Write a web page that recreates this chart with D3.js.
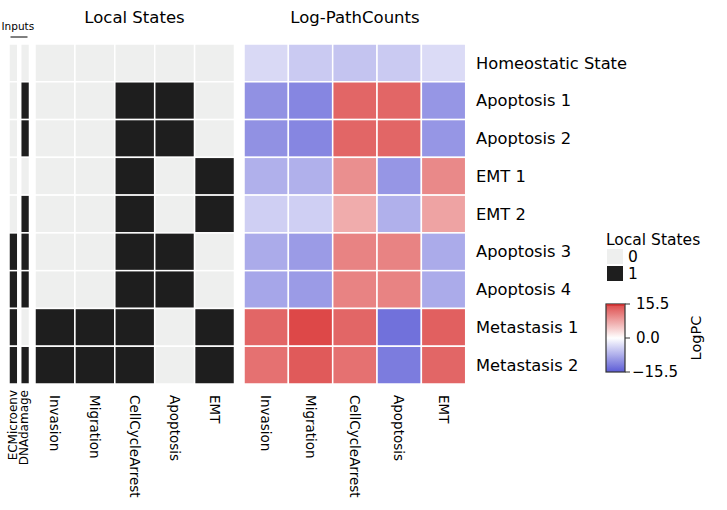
<!DOCTYPE html>
<html><head><meta charset="utf-8">
<script src="https://cdn.jsdelivr.net/npm/d3@7"></script>
<style>body{margin:0;background:#fff}svg{font-family:"DejaVu Sans",sans-serif}</style>
</head><body>
<svg id="c" width="727" height="510"></svg>
<script>
const rows = ["Homeostatic State","Apoptosis 1","Apoptosis 2","EMT 1","EMT 2","Apoptosis 3","Apoptosis 4","Metastasis 1","Metastasis 2"];
const inputs = ["ECMicroenv","DNAdamage"];
const states = ["Invasion","Migration","CellCycleArrest","Apoptosis","EMT"];
const inputValues = [[0,0],[0,1],[0,1],[0,0],[0,1],[1,1],[1,1],[1,0],[1,1]];
const stateValues = [
  [0,0,0,0,0],[0,0,1,1,0],[0,0,1,1,0],[0,0,1,0,1],[0,0,1,0,1],
  [0,0,1,1,0],[0,0,1,1,0],[1,1,1,0,1],[1,1,1,0,1]];
const logPC = [
  [-3.6,-5,-5.6,-5,-3.4],
  [-10.5,-11.5,13,13,-10],
  [-10.5,-11.5,13,13,-10],
  [-7.5,-7.5,9.5,-10,10],
  [-4.6,-4.6,7,-7.5,7.8],
  [-8,-9.5,10.5,10.5,-8],
  [-8.5,-9.5,10.5,10.5,-8],
  [13,15.5,13,-13.5,13.5],
  [12,14,12,-12.5,13]];
const cbTicks = [15.5,0,-15.5];

const svg = d3.select("#c");
const y = d3.scaleBand().domain(rows).range([44,384]);
const xIn = d3.scaleBand().domain(inputs).range([9,29.5]).paddingInner(0.25);
const xSt = d3.scaleBand().domain(states).range([35,234.5]);
const xPC = d3.scaleBand().domain(states).range([244,465.7]);
const binColor = d3.scaleOrdinal().domain([0,1]).range(["#eeefee","#1e1e1e"]);
const vmax = 15.5;
const col = d3.scaleLinear().domain([-vmax,0,vmax]).range(["#5c5cd6","#ffffff","#dd4848"]).clamp(true);

rows.forEach((r,i)=>{
  inputs.forEach((c,j)=>{
    svg.append("rect").attr("x",xIn(c)).attr("y",y(r)).attr("width",xIn.bandwidth()).attr("height",y.bandwidth())
      .attr("fill",binColor(inputValues[i][j])).attr("stroke","#fff").attr("stroke-width",1.5);
  });
  states.forEach((c,j)=>{
    svg.append("rect").attr("x",xSt(c)).attr("y",y(r)).attr("width",xSt.bandwidth()).attr("height",y.bandwidth())
      .attr("fill",binColor(stateValues[i][j])).attr("stroke","#fff").attr("stroke-width",1.5);
    svg.append("rect").attr("x",xPC(c)).attr("y",y(r)).attr("width",xPC.bandwidth()).attr("height",y.bandwidth())
      .attr("fill",col(logPC[i][j])).attr("stroke","#fff").attr("stroke-width",1.5);
  });
});

svg.append("text").attr("x",134.5).attr("y",23).attr("text-anchor","middle").attr("font-size",16.5).text("Local States");
svg.append("text").attr("x",355).attr("y",23).attr("text-anchor","middle").attr("font-size",16.5).text("Log-PathCounts");
svg.append("text").attr("x",1.5).attr("y",30).attr("font-size",10.5).text("Inputs");
svg.append("line").attr("x1",10.5).attr("x2",27.5).attr("y1",37).attr("y2",37).attr("stroke","#000").attr("stroke-width",1);

svg.selectAll(".rl").data(rows).enter().append("text").attr("x",476).attr("y",d=>y(d)+y.bandwidth()/2)
  .attr("dy","0.35em").attr("font-size",16.3).text(d=>d);

inputs.forEach(c=>{
  svg.append("text").attr("transform",`translate(${xIn(c)+xIn.bandwidth()/2-1},390) rotate(-90)`)
    .attr("text-anchor","end").attr("dy","0.35em").attr("font-size",12).text(c);
});
[xSt,xPC].forEach(sc=>{
  states.forEach(c=>{
    svg.append("text").attr("transform",`translate(${sc(c)+sc.bandwidth()/2},395) rotate(90)`)
      .attr("text-anchor","start").attr("dy","0.35em").attr("font-size",13.5).text(c);
  });
});

svg.append("text").attr("x",606).attr("y",245).attr("font-size",15.5).text("Local States");
[0,1].forEach((v,i)=>{
  svg.append("rect").attr("x",607).attr("y",249+i*17).attr("width",16).attr("height",15).attr("fill",binColor(v));
  svg.append("text").attr("x",628).attr("y",256.5+i*17).attr("dy","0.35em").attr("font-size",15.5).text(v);
});

const cbY = d3.scaleLinear().domain([-vmax,vmax]).range([372,304]);
const defs = svg.append("defs");
const g = defs.append("linearGradient").attr("id","gr").attr("x1",0).attr("x2",0).attr("y1",1).attr("y2",0);
d3.range(0,1.0001,0.05).forEach(t=>g.append("stop").attr("offset",t).attr("stop-color",col(-vmax+2*vmax*t)));
svg.append("rect").attr("x",606).attr("y",304).attr("width",19).attr("height",68).attr("fill","url(#gr)")
  .attr("stroke","#333").attr("stroke-width",1.2);
svg.append("line").attr("x1",606.5).attr("x2",624.5).attr("y1",305).attr("y2",305).attr("stroke","#d03030").attr("stroke-width",1.5);
const fmt = d=> d===0 ? "0.0" : (d<0?"\u2212":"")+Math.abs(d).toFixed(1);
cbTicks.forEach(t=>{
  svg.append("line").attr("x1",625).attr("x2",630).attr("y1",cbY(t)).attr("y2",cbY(t)).attr("stroke","#333");
  svg.append("text").attr("x",t<0?632:636).attr("y",cbY(t)).attr("dy","0.35em").attr("font-size",15).text(fmt(t));
});
svg.append("text").attr("transform","translate(696,338) rotate(-90)").attr("text-anchor","middle").attr("dy","0.35em")
  .attr("font-size",14.5).text("LogPC");
</script>
</body></html>
